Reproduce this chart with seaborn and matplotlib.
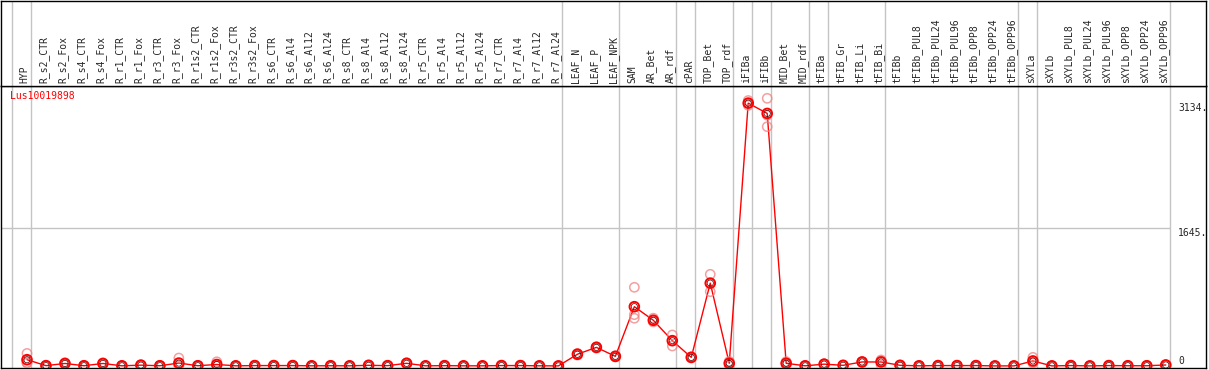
import pandas as pd
import matplotlib
matplotlib.use('Agg')
import matplotlib.pyplot as plt
import seaborn as sns

# Datos
gene = 'Lus10019898'

categories = ['HYP', 'R_s2_CTR', 'R_s2_Fox', 'R_s4_CTR', 'R_s4_Fox', 'R_r1_CTR', 'R_r1_Fox',
              'R_r3_CTR', 'R_r3_Fox', 'R_r1s2_CTR', 'R_r1s2_Fox', 'R_r3s2_CTR', 'R_r3s2_Fox',
              'R_s6_CTR', 'R_s6_Al4', 'R_s6_Al12', 'R_s6_Al24', 'R_s8_CTR', 'R_s8_Al4',
              'R_s8_Al12', 'R_s8_Al24', 'R_r5_CTR', 'R_r5_Al4', 'R_r5_Al12', 'R_r5_Al24',
              'R_r7_CTR', 'R_r7_Al4', 'R_r7_Al12', 'R_r7_Al24', 'LEAF_N', 'LEAF_P', 'LEAF_NPK',
              'SAM', 'AR_Bet', 'AR_rdf', 'cPAR', 'TOP_Bet', 'TOP_rdf', 'iFIBa', 'iFIBb',
              'MID_Bet', 'MID_rdf', 'tFIBa', 'tFIB_Gr', 'tFIB_Li', 'tFIB_Bi', 'tFIBb',
              'tFIBb_PUL8', 'tFIBb_PUL24', 'tFIBb_PUL96', 'tFIBb_OPP8', 'tFIBb_OPP24',
              'tFIBb_OPP96', 'sXYLa', 'sXYLb', 'sXYLb_PUL8', 'sXYLb_PUL24', 'sXYLb_PUL96',
              'sXYLb_OPP8', 'sXYLb_OPP24', 'sXYLb_OPP96']

means = [75, 4, 30, 3, 30, 2, 10, 3, 35, 3, 18, 2, 5, 5, 5, 2, 3, 2, 8, 4, 32, 2, 4, 2, 2,
         5, 5, 2, 1, 140, 222, 115, 707, 545, 302, 103, 988, 32, 3134, 3011, 32, 2, 22, 8,
         48, 48, 8, 2, 5, 5, 5, 1, 1, 60, 1, 5, 1, 5, 3, 3, 12]

reps = [(150, 40, 35), (6, 3, 2), (38, 28, 24), (4, 2, 3), (36, 28, 26), (3, 1, 2),
        (14, 8, 8), (4, 2, 3), (95, 6, 4), (4, 2, 3), (50, 3, 2), (3, 2, 1), (7, 5, 3),
        (6, 5, 4), (7, 4, 4), (3, 2, 1), (4, 3, 2), (3, 2, 1), (10, 8, 6), (5, 4, 3),
        (38, 30, 28), (3, 2, 1), (5, 4, 3), (3, 2, 1), (3, 2, 1), (6, 5, 4), (7, 5, 3),
        (3, 2, 1), (2, 1, 0), (150, 140, 130), (230, 222, 214), (122, 115, 108),
        (938, 612, 569), (570, 545, 525), (370, 300, 238), (110, 103, 96),
        (1093, 985, 886), (55, 40, 0), (3165, 3130, 3107), (3191, 2990, 2853),
        (52, 32, 13), (3, 2, 1), (25, 22, 19), (10, 8, 6), (52, 48, 44), (72, 60, 12),
        (10, 8, 6), (3, 2, 1), (6, 5, 4), (6, 5, 4), (6, 5, 4), (2, 1, 0), (2, 1, 0),
        (103, 42, 35), (2, 1, 0), (6, 5, 4), (2, 1, 0), (6, 5, 4), (4, 3, 2), (4, 3, 2),
        (14, 12, 10)]

group_lines = [-1, 0, 28, 31, 34, 35, 37, 38, 39, 41, 42, 45, 52, 53, 60]
yticks = [0, 1645, 3134]
ytick_labels = ['0', '1645.', '3134.']

df = pd.DataFrame({'pos': range(len(categories)), 'cond': categories, 'mean': means})
df_reps = pd.DataFrame([(i, v) for i, r in enumerate(reps) for v in r], columns=['pos', 'val'])

sns.set_style('white')
plt.rcParams['font.family'] = ['DejaVu Sans Mono', 'DejaVu Sans']

W, H = 1209, 370
fig = plt.figure(figsize=(W / 100, H / 100), dpi=100)
ax = fig.add_axes([1 / W, 2 / H, 1205 / W, 282 / H])
hax = fig.add_axes([1 / W, 284 / H, 1205 / W, 85 / H], sharex=ax)

xmin, xmax = -1.37, 62.12
gris = '#c4c4c4'

# lineas verticales de grupo (cruzan cabecera y grafico)
for g in group_lines:
    ax.axvline(g + 0.2, color=gris, lw=1, zorder=0)
    hax.axvline(g + 0.2, color=gris, lw=1, zorder=0)
ax.hlines(1645, xmin, 60.2, color=gris, lw=1, zorder=0)

# datos
sns.lineplot(data=df, x='pos', y='mean', color='red', lw=1, ax=ax, zorder=2)
sns.scatterplot(data=df_reps, x='pos', y='val', marker='o', s=44, facecolor='none',
                edgecolor='#f08080', linewidth=1.1, alpha=0.75, ax=ax, zorder=3)
sns.scatterplot(data=df, x='pos', y='mean', marker='o', s=48, facecolor='none',
                edgecolor='red', linewidth=1.4, ax=ax, zorder=4)
sns.scatterplot(data=df, x='pos', y='mean', marker='o', s=20, facecolor='none',
                edgecolor='#400000', linewidth=0.5, ax=ax, zorder=5)

ax.set_xlim(xmin, xmax)
ax.set_ylim(-24, 3338)
ax.set_xlabel('')
ax.set_ylabel('')
ax.set_xticks([])
ax.yaxis.tick_right()
ax.set_yticks(yticks)
ax.set_yticklabels(ytick_labels)
ax.tick_params(axis='y', length=0, pad=-20, labelsize=7)
for lab, va in zip(ax.get_yticklabels(), ['bottom', 'top', 'top']):
    lab.set_va(va)

# cabecera con nombres de condiciones
hax.set_ylim(0, 85)
hax.set_xticks([])
hax.set_yticks([])
for i, c in enumerate(categories):
    hax.text(i - 0.12, 3, c, rotation=90, ha='center', va='bottom', fontsize=7)

for a in (ax, hax):
    for s in a.spines.values():
        s.set_color('black')
        s.set_linewidth(1)

fig.text(10 / W, 1 - 91 / H, gene, color='red', fontsize=7, ha='left', va='top')

fig.savefig('out.png', dpi=100)
